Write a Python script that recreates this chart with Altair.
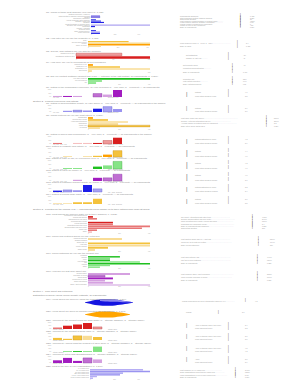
import altair as alt
import pandas as pd

FONT = "Liberation Sans"
GREY = "#9c9c9c"
DARK = "#6a6a6a"
X0 = 46      # left edge of plot column (px, for scale maths only)
LW = 104     # plot width of left panels
SW = 92      # width of right text panels

# ---------------------------------------------------------------- data
h1_text = "Section 2 · Product experience and ratings"
h2_text = "Section 3 · Priorities for the coming year — respondents could choose up to three options from each list below"
h3_text = "Section 4 · Time spent and outcomes"
h4_text = "Distribution of weekly hours (kernel density estimate, all respondents)"

p1_title = "Q1. Which of these best describe your role? (n=1,482)"
p1_cats = ["Software developer / engineer", "Data scientist or machine learning specialist", "Student",
           "Researcher (academic)", "Analyst (business, data, financial)", "Manager / team lead", "Designer",
           "Product manager or product owner", "DevOps / site reliability engineer", "Consultant",
           "Teacher / educator", "Technical writer", "Other (please specify)", "Prefer not to say"]
p1_vals = [76, 76, 0, 42, 85, 110, 0, 640, 34, 0, 0, 42, 76, 76]
p1_series = ["l", "c", "l", "b", "m", "a", "l", "l", "a", "l", "l", "m", "l", "a"]
p1_side = ["Respondents answering", "Total responses (multiple answers allowed)", "Skipped this question",
           "Most common: Product manager or product owner ...........",
           "Least common: Student, Designer, Consultant .................",
           "Median number of answers per respondent", "Margin of error at 95% confidence", "Base: all respondents"]
p1_nums = ["1,482", "2,311", "37", "43.2%", "0.0%", "1", "±2.5", "1,519"]

p2_title = "Q2. How often do you use the product? (n=1,455)"
p2_cats = ["Daily", "Several times a week", "Weekly", "Rarely or never"]
p2_vals = [275, 460, 460, 88]
p2_series = ["m", "l", "d", "l"]
p2_side = ["Mean frequency score (1 = never, 5 = daily) .....................................", "Base: all users"]
p2_nums = ["3.4", "1,455"]

p3_title = "Q3. Overall, how satisfied are you with the product?"
p3_cats = ["Satisfied (top-2 box)", "Dissatisfied (bottom-2 box)"]
p3_vals = [62, 105]
p3_series = ["c", "a"]
p3_side = ["Net satisfaction", "Change vs. last year ............"]
p3_nums = ["+24", "+3"]

p4_title = "Q4. How likely are you to recommend us to a colleague?"
p4_cats = ["Promoters (9–10)", "Passives (7–8)", "Detractors (0–6)", "Don't know"]
p4_vals = [24, 155, 310, 19]
p4_series = ["d", "m", "l", "l"]
p4_side = ["Net Promoter Score", "Promoters minus detractors ...............", "Base: all respondents"]
p4_nums = ["-41", "", "1,401"]

p5_title = "Q5. Did you contact customer support this year? — outcome of the last contact, all respondents (n=1,390)"
p5_cats = ["Yes, issue resolved", "Yes, not resolved", "No"]
p5_vals = [420, 90, 52]
p5_series = ["a", "b", "b"]
p5_side = ["Resolution rate", "First-contact resolution ...............", "Base: contacted support"]
p5_nums = ["82%", "64%", "912"]

p6_title = "Q6. Rating of the onboarding experience, by year of joining (1 = very poor, 5 = excellent) — all respondents"
p6_vals = [0.15, 0.15, 0.15, 0, 0.5, 0.35, 1.0]
p6_series = ["b", "a", "b", "b", "c", "b", "a"]
p6_caps = ["Very poor", "Excellent (5 of 5)"]
p6_side = ["Ratings", "Mean rating across all years"]
p6_nums = ["4.1", "3.8"]

p7_title = "Q7. Rating of documentation quality, by user group (1 = very poor, 5 = excellent) — all respondents in the sample"
p7_vals = [0, 0.2, 0.3, 0.25, 0.55, 0.9, 0.5]
p7_series = ["b", "b", "c", "b", "a", "c", "b"]
p7_caps = ["Very poor", "Excellent (5 of 5)"]
p7_side = ["Ratings", "Mean rating across all groups"]
p7_nums = ["3.9", "3.6"]

p8_title = "Q8. Which features do you use most often? (n=1,377)"
p8_cats = ["Dashboards", "Reports and exports", "Alerts and notifications", "Integrations",
           "Mobile app", "API access"]
p8_vals = [32, 129, 258, 194, 420, 77]
p8_series = ["d", "m", "l", "l", "c", "l"]
p8_side = ["Most used: Mobile app (58.1%) ......................................................................",
           "Second: Alerts and notifications (35.6%) .........................................",
           "Average number of features used per respondent .......................................",
           "Base: active users, last 30 days"]
p8_nums = ["58.1%", "35.6%", "2.3", "1,377"]

p9_title = "Q9. Rating of speed and performance (1 = very poor, 5 = excellent) — all respondents in the sample"
p9_vals = [0.15, 0, 0.15, 0.15, 0.15, 0.5, 0.9]
p9_series = ["b", "b", "l", "l", "a", "c", "a"]
p9_caps = ["Very poor · Poor · Fair", "Good · Excellent (5 of 5)"]
p9_side = ["Ratings distribution by score", "Mean rating across all groups"]
p9_nums = ["4.2", "3.9"]

p10_title = "Q10. Rating of reliability and uptime (1 = very poor, 5 = excellent) — all respondents"
p10_vals = [0, 0.1, 0, 0.1, 0.15, 0.3, 0.8]
p10_series = ["l", "l", "l", "l", "m", "d", "c"]
p10_caps = ["Very poor · Poor · Fair", "Good · Excellent (5 of 5)"]
p10_side = ["Ratings", "Mean rating across all groups"]
p10_nums = ["4.4", "4.0"]

p11_title = "Q11. Rating of ease of use, by experience level (1 = very poor, 5 = excellent) — all respondents"
p11_vals = [0, 0.12, 0.12, 0, 0.3, 0.45, 0.95]
p11_series = ["b", "b", "b", "b", "a", "b", "c"]
p11_caps = ["Very poor · Poor · Fair", "Good · Excellent (5 of 5)"]
p11_side = ["Ratings", "Mean rating across all groups"]
p11_nums = ["4.3", "4.1"]

p12_title = "Q12. Rating of value for money (1 = very poor, 5 = excellent) — all respondents"
p12_vals = [0, 0, 0.15, 0, 0.4, 0.4, 0.85]
p12_series = ["b", "b", "b", "b", "a", "c", "c"]
p12_caps = ["Very poor · Poor · Fair", "Good · Excellent (5 of 5)"]
p12_side = ["Ratings", "Mean rating across all groups"]
p12_nums = ["4.0", "3.7"]

p13_title = "Q13. Rating of customer support quality, by region (1 = very poor, 5 = excellent) — all respondents"
p13_vals = [0.2, 0.3, 0.25, 1.0, 0.45, 0, 0]
p13_series = ["a", "c", "b", "a", "c", "b", "b"]
p13_caps = ["Very poor · Poor", "Fair · Good · Excellent"]
p13_side = ["Ratings distribution by score", "Mean rating across all regions"]
p13_nums = ["3.2", "3.4"]

p14_title = "Q14. Rating of pricing page clarity (1 = very poor, 5 = excellent) — all respondents"
p14_vals = [0.1, 0.1, 0.25, 0.25, 0.75, 0, 0]
p14_series = ["l", "l", "m", "m", "m", "l", "l"]
p14_caps = ["Very poor · Poor", "Fair · Good · Excellent"]
p14_side = ["Ratings", "Mean rating across all groups"]
p14_nums = ["3.6", "3.5"]

p15_title = "Q15. What should we improve first? (up to three answers, n=1,302)"
p15_cats = ["Performance and loading speed", "Search and filtering", "Onboarding for new users",
            "Reporting and exports", "Pricing and plans", "Integrations with other tools",
            "Documentation and help centre", "Mobile app", "Other"]
p15_vals = [32, 58, 0, 161, 161, 420, 348, 58, 26]
p15_series = ["a", "b", "b", "a", "b", "b", "b", "b", "l"]
p15_side = ["Top priority: Integrations with other tools ........................................",
            "Second: Documentation and help centre ..................................................",
            "Third: Reporting and exports / Pricing and plans ..................................",
            "Responses per respondent (mean) .........................................................",
            "Base: all respondents who answered ....................................................",
            "Skipped this question"]
p15_nums = ["47.2%", "39.1%", "18.1%", "2.4", "1,302", "217"]

p16_title = "Q16. Which new features would you pay extra for?"
p16_cats = ["Advanced analytics", "Custom branding", "Single sign-on", "Audit logs",
            "Priority support", "Offline mode"]
p16_vals = [219, 0, 420, 420, 129, 45]
p16_series = ["l", "l", "m", "l", "m", "l"]
p16_side = ["Most wanted: Single sign-on / Audit logs ........................................",
            "Would pay for at least one feature .....................................................",
            "Base: paying customers"]
p16_nums = ["52.0%", "71.4%", "884"]

p17_title = "Q17. Which platforms do you use the product on?"
p17_cats = ["Windows", "macOS", "Linux", "Web browser", "iOS", "Android", "Other"]
p17_vals = [206, 142, 142, 335, 420, 142, 77]
p17_series = ["a", "b", "a", "b", "a", "b", "b"]
p17_side = ["Most used platform: iOS ..................................................................",
            "Use two or more platforms ...............................................................",
            "Base: all respondents"]
p17_nums = ["49.6%", "63.0%", "1,288"]

p18_title = "Q18. How did you first hear about us?"
p18_cats = ["Search engine", "Colleague or friend", "Social media", "Conference or event",
            "Online advertising", "Other / don't remember"]
p18_vals = [271, 110, 161, 110, 161, 420]
p18_series = ["b", "c", "a", "b", "b", "l"]
p18_side = ["Most common: Other / don't remember .................................................",
            "Word of mouth (colleague or friend) ...................................................",
            "Base: all respondents"]
p18_nums = ["38.2%", "10.0%", "1,275"]

p19_title = "Q19. Hours saved per week by using the product (all respondents, n=1,204)"
p19_x = [0, 1, 2, 3, 4, 5, 6, 7, 8, 9, 9.6]
p19_w = [0.15, 1.4, 2.8, 3.5, 3.8, 3.7, 3.3, 2.6, 1.7, 0.8, 0.15]
p19_ox = [3, 4, 5, 6, 7, 8, 9, 9.6]
p19_otop = [3.5, 3.8, 3.7, 3.3, 2.6, 1.7, 0.8, 0.15]
p19_obot = [1.6, 1.2, 1.0, 0.9, 0.7, 0.4, 0.2, 0.05]
p19_side = ["Median hours saved per week (interquartile range 2.1–6.4) .................."]
p19_nums = ["4.3"]

p20_title = "Q20. Hours spent per week on manual reporting (all respondents, n=1,198)"
p20_x = [0, 1, 2, 3, 4, 5, 6, 7, 8, 9]
p20_w = [0.15, 1.5, 2.6, 3.3, 3.5, 3.4, 3.0, 2.3, 1.4, 0.15]
p20_side = ["Median"]
p20_nums = ["3.1"]

p21_title = "Q21. Agreement: the product helps me work faster (1 = strongly disagree, 5 = strongly agree)"
p21_vals = [0.25, 0.55, 0.75, 1.0, 0.35, 0, 0]
p21_series = ["b", "a", "a", "a", "c", "b", "b"]
p21_caps = ["Strongly disagree", "Strongly agree"]
p21_side = ["Agree or strongly agree (top-2 box)", "Mean agreement score"]
p21_nums = ["3.4", "3.2"]

p22_title = "Q22. Agreement: the product is good value (1 = strongly disagree, 5 = strongly agree)"
p22_vals = [0.35, 0.2, 0.7, 0.7, 0.5, 0, 0]
p22_series = ["m", "m", "c", "l", "m", "l", "l"]
p22_caps = ["Strongly disagree", "Strongly agree"]
p22_side = ["Agree or strongly agree (top-2 box)", "Mean agreement score"]
p22_nums = ["3.1", "3.0"]

p23_title = "Q23. Agreement: I would miss the product if it were gone (1 = strongly disagree, 5 = strongly agree)"
p23_vals = [0, 0.15, 0.15, 0.15, 0.9, 0, 0]
p23_series = ["b", "b", "a", "b", "b", "b", "b"]
p23_caps = ["Strongly disagree", "Strongly agree"]
p23_side = ["Agree or strongly agree (top-2 box)", "Mean agreement score"]
p23_nums = ["4.5", "4.2"]

p24_title = "Q24. Agreement: setup was straightforward (1 = strongly disagree, 5 = strongly agree)"
p24_vals = [0.45, 0.85, 0.35, 0.85, 0.6, 0, 0]
p24_series = ["a", "a", "a", "c", "b", "b", "b"]
p24_caps = ["Strongly disagree", "Strongly agree"]
p24_side = ["Agree", "Mean agreement score"]
p24_nums = ["3.0", "2.9"]

p25_title = "Q25. What is the size of your organisation? (n=1,240)"
p25_cats = ["1–9 employees", "10–49 employees", "50–249 employees", "250–999 employees",
            "1,000–4,999 employees", "5,000 or more employees"]
p25_vals = [442, 560, 275, 250, 58, 25]
p25_series = ["l", "b", "b", "b", "l", "l"]
p25_side = ["Most common: 10–49 employees ...................................",
            "Small organisations (fewer than 50 employees) ...................",
            "Large organisations (1,000 or more employees) ........................",
            "Base: all respondents"]
p25_nums = ["34.8%", "62.3%", "5.1%", "1,240"]

# ---------------------------------------------------------------- palettes (styles)
BLUE1 = {"a": "#2222e6", "b": "#4a4ae8", "c": "#6a50e4", "m": "#3a3aea", "l": "#aea4f0"}
BLUE = {"a": "#1c1ce8", "b": "#9a94f0", "c": "#a8a2f2", "m": "#6a62ea", "l": "#b6aef4"}
ORANGE = {"d": "#ffa000", "m": "#f4c23c", "l": "#f8dc96", "c": "#f4c23c"}
RED = {"a": "#d81f1f", "b": "#e87676", "c": "#ef9a9a", "l": "#f6c0c0"}
GREEN = {"a": "#1fc01f", "b": "#86e486", "c": "#86e486"}
PURPLE = {"a": "#a21cc0", "b": "#d5a0e0", "c": "#c06ed2", "l": "#e6cdee"}
STROKES = {"blue": "#5050d0", "orange": "#c89020", "red": "#b03030", "green": "#40a040", "purple": "#8030a0"}


def expr_map(mapping, field="series"):
    keys = list(mapping.keys())
    out = f"'{mapping[keys[-1]]}'"
    for k in reversed(keys[:-1]):
        out = f"datum.{field}==='{k}'?'{mapping[k]}':({out})"
    return out


def ttl(text, offset=0.8):
    return alt.TitleParams(text, fontSize=2.4, color="#8c8c8c", anchor="start", offset=offset,
                           font=FONT, fontWeight="normal")


def hbar(title, cats, vals, series, pal, stroke, start, vmax, ticks, h):
    df = pd.DataFrame({"cat": cats, "val": vals, "series": series, "row": list(range(len(cats)))})
    frac = (start - X0) / LW
    lo = -vmax * frac / (1 - frac)
    xs = alt.Scale(domain=[lo, vmax], clamp=True, nice=False, zero=False)
    ys = alt.Scale(paddingInner=0.15, paddingOuter=0.05)
    smap = {k: (stroke if k == "c" else "transparent") for k in pal}
    base = alt.Chart(df).transform_calculate(fillc=expr_map(pal), strokec=expr_map(smap))
    bars = base.mark_bar(strokeWidth=0.35).encode(
        x=alt.X("val:Q", scale=xs,
                axis=alt.Axis(values=ticks, labelFontSize=1.6, labelColor="#ababab", domain=False,
                              ticks=False, grid=False, title=None, labelPadding=0.4, labelFont=FONT,
                              labelOverlap=False)),
        x2=alt.datum(0),
        y=alt.Y("row:O", scale=ys, axis=None),
        color=alt.Color("fillc:N", scale=None),
        stroke=alt.Stroke("strokec:N", scale=None),
    )
    labels = base.mark_text(align="right", baseline="middle", dx=-1.2, fontSize=1.6,
                            color=GREY, font=FONT).encode(
        x=alt.datum(0), y=alt.Y("row:O", scale=ys, axis=None), text="cat:N")
    return alt.layer(bars, labels).properties(width=LW, height=h, title=ttl(title))


def cols(title, vals, series, pal, stroke, caps, h):
    # slot i is centred 11.5 + 10*i px from the plot's left edge
    df = pd.DataFrame({"slot": list(range(len(vals))), "val": vals, "series": series})
    smap = {k: (stroke if k == "c" else "transparent") for k in pal}
    xs = alt.Scale(domain=[-1.15, 9.25], nice=False, zero=False)
    bars = alt.Chart(df).transform_filter("datum.val>0").transform_calculate(
        fillc=expr_map(pal), strokec=expr_map(smap),
        lo="datum.slot-0.45", hi="datum.slot+0.45").mark_rect(strokeWidth=0.35).encode(
        x=alt.X("lo:Q", scale=xs, axis=None),
        x2="hi:Q",
        y=alt.Y("val:Q", scale=alt.Scale(domain=[0, 1], nice=False),
                axis=alt.Axis(values=[0, 0.5, 1], format=".0%", labelFontSize=1.4, labelColor="#ababab",
                              domain=False, ticks=False, grid=False, title=None, offset=-5,
                              labelPadding=0.3, labelFont=FONT)),
        y2=alt.datum(0),
        color=alt.Color("fillc:N", scale=None),
        stroke=alt.Stroke("strokec:N", scale=None),
    )
    cap_df = pd.DataFrame({"cap": caps, "k": [0, 1]})
    capl = alt.Chart(cap_df).transform_filter("datum.k==0").mark_text(
        align="left", baseline="top", fontSize=1.4, color=GREY, font=FONT).encode(
        x=alt.value(7), y=alt.value(h + 0.3), text="cap:N")
    capr = alt.Chart(cap_df).transform_filter("datum.k==1").mark_text(
        align="left", baseline="top", fontSize=1.4, color=GREY, font=FONT).encode(
        x=alt.value(62), y=alt.value(h + 0.3), text="cap:N")
    return alt.layer(bars, capl, capr).properties(width=LW, height=h, title=ttl(title))


def blob(title, xs_, ws, col, h, ox=None, otop=None, obot=None, ocol=None):
    xsc = alt.Scale(domain=[-7.8, 13], nice=False, zero=False)
    ysc = alt.Scale(domain=[-4, 4], nice=False)
    df = pd.DataFrame({"x": xs_, "w": ws})
    a1 = alt.Chart(df).transform_calculate(nw="-datum.w").mark_area(
        color=col, interpolate="monotone").encode(
        x=alt.X("x:Q", scale=xsc, axis=None), y=alt.Y("w:Q", scale=ysc, axis=None), y2="nw:Q")
    layers = [a1]
    if ox is not None:
        odf = pd.DataFrame({"x": ox, "t": otop, "b": obot})
        a2 = alt.Chart(odf).mark_area(color=ocol, interpolate="monotone").encode(
            x=alt.X("x:Q", scale=xsc, axis=None), y=alt.Y("t:Q", scale=ysc, axis=None), y2="b:Q")
        layers.append(a2)
    return alt.layer(*layers).properties(width=LW, height=h, title=ttl(title, offset=-1.6))


def side(lines, nums, h, offs, lead=None):
    df = pd.DataFrame({"t": lines, "n": nums, "i": list(range(len(lines)))})
    y = alt.Y("i:O", axis=None, scale=alt.Scale(padding=0.3))
    base = alt.Chart(df)
    t = base.mark_text(align="left", baseline="middle", fontSize=1.7, color=GREY, font=FONT).encode(
        x=alt.value(offs[0]), y=y, text="t:N")
    g = base.mark_text(text="|", align="left", baseline="middle", fontSize=2.6, color=DARK,
                       fontWeight="bold", font=FONT).encode(x=alt.value(offs[1]), y=y)
    n = base.mark_text(align="left", baseline="middle", fontSize=1.7, color=GREY, font=FONT).encode(
        x=alt.value(offs[2]), y=y, text="n:N")
    layers = [t, g, n]
    if lead is not None:
        ld = base.transform_filter("datum.i==0").mark_text(
            text="|", align="left", baseline="middle", fontSize=h * 0.8, color=DARK, font=FONT).encode(
            x=alt.value(lead), y=alt.value(h / 2))
        layers.append(ld)
    return alt.layer(*layers).properties(width=SW, height=h)


def header(text):
    df = pd.DataFrame({"t": [text]})
    return alt.Chart(df).mark_text(align="left", baseline="middle", fontSize=2.4, color="#7c7c7c",
                                   font=FONT).encode(
        x=alt.value(-13), y=alt.value(0.5), text="t:N").properties(width=LW, height=1)


def blank(w, g):
    df = pd.DataFrame({"s": [0]})
    return alt.Chart(df).mark_point(opacity=0, size=0).encode(
        x=alt.value(0), y=alt.value(0)).properties(width=w, height=g)


def row(left, right):
    return [left, right]


def hrow(text):
    return [header(text), blank(SW, 1)]


HB = (0, 60, 70)
CO = (15, 48, 65)

# (top, bottom, builder) -- whole pixels, the layout rounds fractional sizes
rows = [
    (14, 33, lambda h: row(hbar(p1_title, p1_cats, p1_vals, p1_series, BLUE1, STROKES["blue"], 91, 500,
                                [0, 100, 200, 300, 400, 500], h), side(p1_side, p1_nums, 12, HB))),
    (40, 46, lambda h: row(hbar(p2_title, p2_cats, p2_vals, p2_series, ORANGE, STROKES["orange"], 88, 420,
                                [0, 100, 200, 300, 400], h), side(p2_side, p2_nums, h, (0, 57, 66)))),
    (52, 58, lambda h: row(hbar(p3_title, p3_cats, p3_vals, p3_series, RED, STROKES["red"], 76, 100,
                                [0, 25, 50, 75, 100], h), side(p3_side, p3_nums, h, (6, 48, 63)))),
    (63, 71, lambda h: row(hbar(p4_title, p4_cats, p4_vals, p4_series, ORANGE, STROKES["orange"], 88, 300,
                                [0, 100, 200, 300], h), side(p4_side, p4_nums, h, (3, 52, 63)))),
    (77, 83, lambda h: row(hbar(p5_title, p5_cats, p5_vals, p5_series, GREEN, STROKES["green"], 88, 400,
                                [0, 100, 200, 300, 400], h), side(p5_side, p5_nums, h, (3, 52, 63)))),
    (89, 96, lambda h: row(cols(p6_title, p6_vals, p6_series, PURPLE, STROKES["purple"], p6_caps, h),
                           side(p6_side, p6_nums, h, CO, lead=6))),
    (100, 101, lambda h: hrow(h1_text)),
    (105, 111, lambda h: row(cols(p7_title, p7_vals, p7_series, BLUE, STROKES["blue"], p7_caps, h),
                             side(p7_side, p7_nums, h, CO, lead=6))),
    (116, 128, lambda h: row(hbar(p8_title, p8_cats, p8_vals, p8_series, ORANGE, STROKES["orange"], 88, 400,
                                  [0, 100, 200, 300, 400], h), side(p8_side, p8_nums, 9, (1, 86, 94)))),
    (136, 143, lambda h: row(cols(p9_title, p9_vals, p9_series, RED, STROKES["red"], p9_caps, h),
                             side(p9_side, p9_nums, h, CO, lead=6))),
    (148, 156, lambda h: row(cols(p10_title, p10_vals, p10_series, ORANGE, STROKES["orange"], p10_caps, h),
                             side(p10_side, p10_nums, h, CO, lead=6))),
    (160, 168, lambda h: row(cols(p11_title, p11_vals, p11_series, GREEN, STROKES["green"], p11_caps, h),
                             side(p11_side, p11_nums, h, CO, lead=6))),
    (172, 180, lambda h: row(cols(p12_title, p12_vals, p12_series, PURPLE, STROKES["purple"], p12_caps, h),
                             side(p12_side, p12_nums, h, CO, lead=6))),
    (184, 191, lambda h: row(cols(p13_title, p13_vals, p13_series, BLUE, STROKES["blue"], p13_caps, h),
                             side(p13_side, p13_nums, h, CO, lead=6))),
    (196, 203, lambda h: row(cols(p14_title, p14_vals, p14_series, ORANGE, STROKES["orange"], p14_caps, h),
                             side(p14_side, p14_nums, h, CO, lead=6))),
    (208, 209, lambda h: hrow(h2_text)),
    (215, 232, lambda h: row(hbar(p15_title, p15_cats, p15_vals, p15_series, RED, STROKES["red"], 88, 400,
                                  [0, 100, 200, 300, 400], h), side(p15_side, p15_nums, 12, (1, 72, 82)))),
    (237, 250, lambda h: row(hbar(p16_title, p16_cats, p16_vals, p16_series, ORANGE, STROKES["orange"], 88, 400,
                                  [0, 100, 200, 300, 400], h), side(p16_side, p16_nums, 7, (1, 78, 90)))),
    (255, 267, lambda h: row(hbar(p17_title, p17_cats, p17_vals, p17_series, GREEN, STROKES["green"], 88, 400,
                                  [0, 100, 200, 300, 400], h), side(p17_side, p17_nums, 7, (1, 77, 87)))),
    (272, 285, lambda h: row(hbar(p18_title, p18_cats, p18_vals, p18_series, PURPLE, STROKES["purple"], 88, 400,
                                  [0, 100, 200, 300, 400], h), side(p18_side, p18_nums, 7, (1, 77, 87)))),
    (290, 291, lambda h: hrow(h3_text)),
    (294, 295, lambda h: hrow(h4_text)),
    (298, 305, lambda h: row(blob(p19_title, p19_x, p19_w, "#1414e0", h, p19_ox, p19_otop, p19_obot, "#8c86f0"),
                             side(p19_side, p19_nums, 3, (2, 65, 75)))),
    (310, 317, lambda h: row(blob(p20_title, p20_x, p20_w, "#ffa500", h),
                             side(p20_side, p20_nums, 2, (6, 38, 62)))),
    (322, 328, lambda h: row(cols(p21_title, p21_vals, p21_series, RED, STROKES["red"], p21_caps, h),
                             side(p21_side, p21_nums, h, CO, lead=6))),
    (333, 339, lambda h: row(cols(p22_title, p22_vals, p22_series, ORANGE, STROKES["orange"], p22_caps, h),
                             side(p22_side, p22_nums, h, CO, lead=6))),
    (345, 351, lambda h: row(cols(p23_title, p23_vals, p23_series, GREEN, STROKES["green"], p23_caps, h),
                             side(p23_side, p23_nums, h, CO, lead=6))),
    (356, 362, lambda h: row(cols(p24_title, p24_vals, p24_series, PURPLE, STROKES["purple"], p24_caps, h),
                             side(p24_side, p24_nums, h, CO, lead=6))),
    (368, 378, lambda h: row(hbar(p25_title, p25_cats, p25_vals, p25_series, BLUE, STROKES["blue"], 90, 500,
                                  [0, 100, 200, 300, 400, 500], h), side(p25_side, p25_nums, 8, (0, 55, 65)))),
]

cells = []
for i, (top, bottom, build) in enumerate(rows):
    cells.extend(build(bottom - top))
    if i + 1 < len(rows):
        g = rows[i + 1][0] - bottom
        cells.extend([blank(LW, g), blank(SW, g)])

chart = alt.concat(*cells, columns=2, spacing={"row": 0, "column": 30}, bounds="flush", align="each").properties(
    padding={"left": 33, "top": 11, "right": 0, "bottom": 0}
).configure(font=FONT).configure_view(stroke=None)

chart.save("out.html", embed_options={"renderer": "svg", "actions": False})
